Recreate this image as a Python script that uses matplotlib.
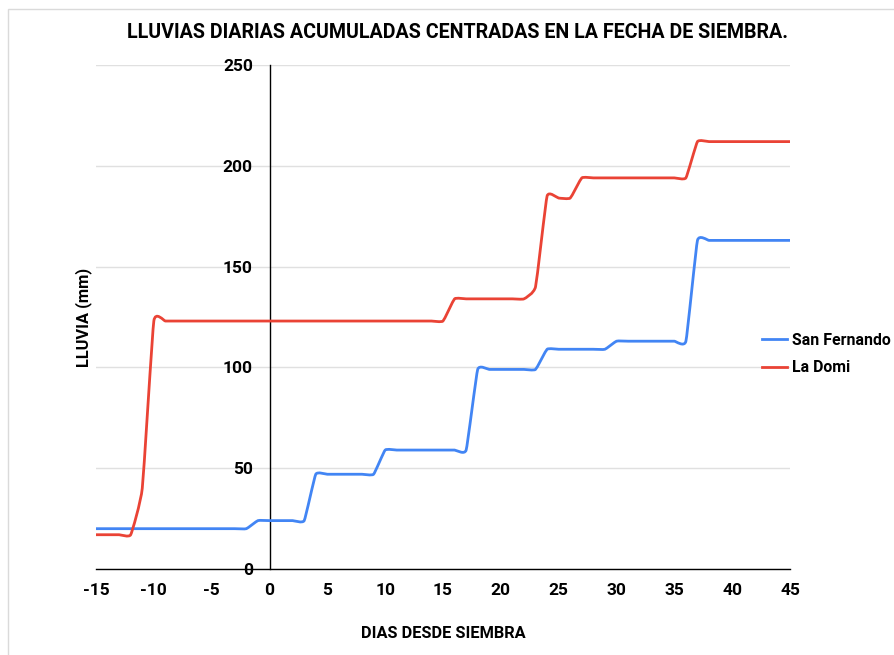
import numpy as np
import matplotlib
matplotlib.use('Agg')
import matplotlib.pyplot as plt
from matplotlib.path import Path
from matplotlib.patches import PathPatch, Rectangle
from matplotlib.lines import Line2D

plt.rcParams['font.family'] = ['Roboto', 'DejaVu Sans']
plt.rcParams['axes.unicode_minus'] = False

# dias desde siembra
dias = list(range(-15, 46))

# lluvia acumulada (mm)
san_fernando = [20] * 14 + [24] * 5 + [47] * 6 + [59] * 8 + [99] * 6 + [109] * 6 + [113] * 7 + [163] * 9
la_domi = [17] * 4 + [40] + [123] * 26 + [134] * 7 + [140] + [185, 184, 184] + [194] * 10 + [212] * 9

series_names = ['San Fernando', 'La Domi']
series_colors = ['#4285F4', '#EA4335']

x_ticks = list(range(-15, 46, 5))
y_ticks = [0, 50, 100, 150, 200, 250]


def smooth_path(xs, ys, k=0.065):
    """
    curva suave (spline cardinal con curvas de bezier)
    """
    pts = np.column_stack([xs, ys]).astype(float)
    n = len(pts)
    before = pts.copy()
    after = pts.copy()
    for i in range(1, n - 1):
        step = pts[i + 1] - pts[i - 1]
        before[i] = pts[i] - k * step
        after[i] = pts[i] + k * step

    verts = [pts[0]]
    codes = [Path.MOVETO]
    for i in range(n - 1):
        verts += [after[i], before[i + 1], pts[i + 1]]
        codes += [Path.CURVE4] * 3
    return Path(np.array(verts), codes)


fig = plt.figure(figsize=(8.94, 6.55), dpi=100)
ax = fig.add_axes([96 / 894, 1 - 569 / 655, 694 / 894, 504 / 655])

# marco gris del grafico
fig.patches.append(Rectangle((8 / 894, -0.05), 1.05, 1 - 9 / 655 + 0.05,
                             transform=fig.transFigure, fill=False,
                             edgecolor='#dadada', linewidth=1))

ax.set_xlim(-15, 45)
ax.set_ylim(0, 250)

for vals, color in zip([san_fernando, la_domi], series_colors):
    ax.add_patch(PathPatch(smooth_path(dias, vals), fill=False, edgecolor=color,
                           linewidth=2.0, capstyle='round', joinstyle='round',
                           zorder=3))

# grilla y ejes
ax.set_yticks(y_ticks)
ax.set_xticks(x_ticks)
ax.grid(axis='y', color='#e0e0e0', linewidth=1)
ax.set_axisbelow(True)
for side in ['top', 'right']:
    ax.spines[side].set_visible(False)
ax.spines['left'].set_position(('data', 0))
ax.spines['left'].set_linewidth(1)
ax.spines['bottom'].set_linewidth(1)
ax.tick_params(length=0)
ax.tick_params(axis='y', pad=12)
ax.tick_params(axis='x', pad=10)
for lab in ax.get_xticklabels() + ax.get_yticklabels():
    lab.set_fontweight('bold')
    lab.set_fontsize(12.5)

ax.set_xlabel('DIAS DESDE SIEMBRA', fontsize=11.8, fontweight='bold', labelpad=20)
fig.text(84 / 894, 1 - 317 / 655, 'LLUVIA (mm)', rotation=90, fontsize=11.8,
         fontweight='bold', ha='center', va='center')

fig.text(458 / 894, 1 - 32 / 655, 'LLUVIAS DIARIAS ACUMULADAS CENTRADAS EN LA FECHA DE SIEMBRA.',
         fontsize=14.1, fontweight='bold', ha='center', va='center')

handles = [Line2D([], [], color=c, linewidth=2.0) for c in series_colors]
leg = fig.legend(handles, series_names, loc='center left',
                 bbox_to_anchor=(762 / 894, 1 - 354 / 655), frameon=False,
                 borderpad=0, borderaxespad=0, handlelength=1.6,
                 handletextpad=0.3, labelspacing=0.8,
                 prop={'weight': 'bold', 'size': 11.4})

fig.savefig('out.png', dpi=100)
